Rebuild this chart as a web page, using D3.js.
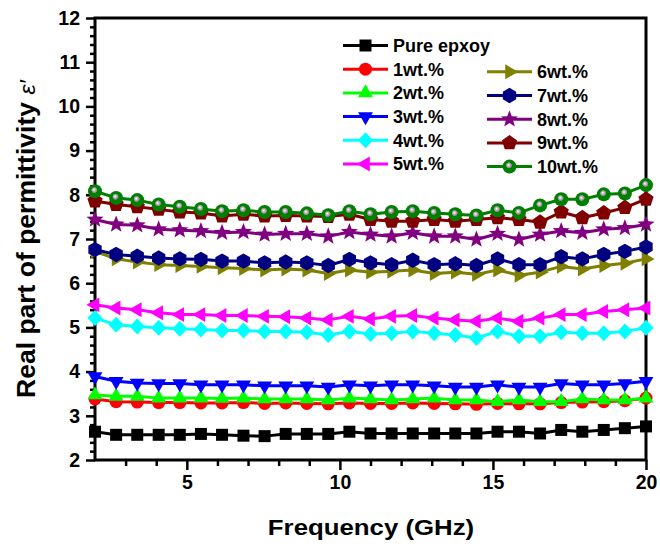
<!DOCTYPE html>
<html><head><meta charset="utf-8">
<script src="https://cdn.jsdelivr.net/npm/d3@7"></script>
<style>
html,body{margin:0;padding:0;background:#fff;}
svg{display:block;font-family:"Liberation Sans",Arial,sans-serif;}
</style></head>
<body>
<svg id="chart" width="660" height="544"></svg>
<script>
const freq = [2.00,2.69,3.38,4.08,4.77,5.46,6.15,6.85,7.54,8.23,8.92,9.62,10.31,11.00,11.69,12.38,13.08,13.77,14.46,15.15,15.85,16.54,17.23,17.92,18.62,19.31,20.00];
const seriesNames = ["Pure epxoy","1wt.%","2wt.%","3wt.%","4wt.%","5wt.%","6wt.%","7wt.%","8wt.%","9wt.%","10wt.%"];
const pure = [2.64,2.57,2.57,2.57,2.57,2.59,2.57,2.55,2.54,2.59,2.59,2.59,2.64,2.60,2.60,2.60,2.60,2.60,2.60,2.64,2.64,2.60,2.68,2.64,2.68,2.72,2.76];
const wt1 = [3.38,3.32,3.31,3.30,3.30,3.29,3.29,3.30,3.28,3.29,3.28,3.27,3.29,3.28,3.28,3.29,3.28,3.27,3.26,3.28,3.27,3.27,3.30,3.31,3.32,3.34,3.40];
const wt2 = [3.47,3.44,3.44,3.40,3.40,3.40,3.39,3.40,3.38,3.38,3.38,3.36,3.40,3.38,3.36,3.38,3.40,3.36,3.36,3.32,3.36,3.32,3.32,3.38,3.36,3.36,3.40];
const wt3 = [3.89,3.78,3.74,3.73,3.73,3.70,3.70,3.70,3.68,3.68,3.68,3.65,3.70,3.68,3.70,3.70,3.68,3.65,3.65,3.70,3.65,3.65,3.73,3.70,3.70,3.73,3.78];
const wt4 = [5.21,5.06,5.02,4.99,4.97,4.95,4.93,4.93,4.91,4.91,4.89,4.83,4.91,4.85,4.87,4.91,4.87,4.83,4.76,4.91,4.80,4.80,4.89,4.87,4.87,4.91,4.99];
const wt5 = [5.51,5.44,5.40,5.33,5.29,5.29,5.27,5.27,5.25,5.24,5.21,5.17,5.25,5.19,5.25,5.27,5.21,5.17,5.14,5.21,5.14,5.21,5.29,5.29,5.36,5.40,5.44];
const wt6 = [6.72,6.55,6.48,6.42,6.40,6.38,6.35,6.33,6.30,6.32,6.30,6.22,6.30,6.25,6.27,6.30,6.22,6.25,6.20,6.30,6.18,6.25,6.38,6.32,6.40,6.45,6.55];
const wt7 = [6.76,6.65,6.61,6.57,6.55,6.54,6.50,6.50,6.46,6.48,6.46,6.40,6.54,6.46,6.42,6.52,6.42,6.44,6.40,6.55,6.42,6.42,6.60,6.55,6.65,6.72,6.82];
const wt8 = [7.44,7.33,7.31,7.22,7.20,7.18,7.14,7.16,7.10,7.12,7.12,7.06,7.16,7.10,7.06,7.14,7.06,7.06,6.99,7.12,6.99,7.10,7.18,7.14,7.22,7.25,7.33];
const wt9 = [7.86,7.78,7.73,7.67,7.61,7.59,7.52,7.56,7.52,7.53,7.52,7.51,7.56,7.44,7.40,7.40,7.44,7.40,7.44,7.48,7.44,7.38,7.61,7.48,7.59,7.71,7.90];
const wt10 = [8.08,7.93,7.88,7.78,7.73,7.68,7.63,7.65,7.61,7.61,7.58,7.54,7.63,7.56,7.61,7.63,7.59,7.56,7.53,7.65,7.59,7.76,7.90,7.90,8.01,8.03,8.22];
const colors = ["#000000","#ff0000","#00ff00","#0000ff","#00ffff","#ff00ff","#808000","#000080","#800080","#800000","#008000"];
const shapes = ["square","circle","up","down","diamond","left","right","hexagon","star","pentagon","ball"];
const xMajor = [5,10,15,20];
const xMinor = [3,4,6,7,8,9,11,12,13,14,16,17,18,19];
const yMajor = [2,3,4,5,6,7,8,9,10,11,12];

const values = [pure,wt1,wt2,wt3,wt4,wt5,wt6,wt7,wt8,wt9,wt10];
const svg = d3.select("#chart");
const L=95, R=646, T=18, B=460;
const x = d3.scaleLinear().domain([2,20]).range([L,R]);
const y = d3.scaleLinear().domain([2,12]).range([B,T]);

const defs = svg.append("defs");
const g = defs.append("radialGradient").attr("id","ball").attr("cx","50%").attr("cy","46%").attr("r","50%").attr("fx","42%").attr("fy","38%");
g.append("stop").attr("offset","0%").attr("stop-color","#ffffff");
g.append("stop").attr("offset","20%").attr("stop-color","#c0c0c0");
g.append("stop").attr("offset","42%").attr("stop-color","#7a7a7a");
g.append("stop").attr("offset","45%").attr("stop-color","#008000");
g.append("stop").attr("offset","100%").attr("stop-color","#008000");

function poly(n, r, rot){ const p=[]; for(let i=0;i<n;i++){const a=rot+i*2*Math.PI/n; p.push([r*Math.cos(a), r*Math.sin(a)]);} return "M"+p.map(d=>d[0].toFixed(2)+","+d[1].toFixed(2)).join("L")+"Z"; }
function starPath(ro, ri){ const p=[]; for(let i=0;i<10;i++){const a=-Math.PI/2+i*Math.PI/5; const r=i%2?ri:ro; p.push([r*Math.cos(a), r*Math.sin(a)]);} return "M"+p.map(d=>d[0].toFixed(2)+","+d[1].toFixed(2)).join("L")+"Z"; }
function markerPath(s){
  switch(s){
    case "square": return "M-6,-6H6V6H-6Z";
    case "circle": return "M6.5,0A6.5,6.5 0 1,1 -6.5,0A6.5,6.5 0 1,1 6.5,0Z";
    case "ball": return "M7,0A7,7 0 1,1 -7,0A7,7 0 1,1 7,0Z";
    case "up": return poly(3,8.6,-Math.PI/2);
    case "down": return poly(3,8.6,Math.PI/2);
    case "left": return poly(3,8.6,Math.PI);
    case "right": return poly(3,8.6,0);
    case "diamond": return "M0,-8L7.6,0L0,8L-7.6,0Z";
    case "hexagon": return poly(6,7.7,-Math.PI/2);
    case "pentagon": return poly(5,8,-Math.PI/2);
    case "star": return starPath(9,3.8);
  }
}

svg.append("rect").attr("x",L).attr("y",T).attr("width",R-L).attr("height",B-T)
  .attr("fill","none").attr("stroke","#000").attr("stroke-width",3);

function styleAxis(sel){
  sel.select(".domain").remove();
  sel.selectAll(".tick line").attr("stroke","#000").attr("stroke-width",2.5);
  sel.selectAll(".tick text").attr("fill","#000").style("font-size","19.5px").style("font-weight","bold").style("font-family","'Liberation Sans',Arial,sans-serif");
}
const xa = svg.append("g").attr("transform",`translate(0,${B})`)
  .call(d3.axisBottom(x).tickValues(xMajor).tickSize(10).tickPadding(5).tickFormat(d3.format("d")));
styleAxis(xa);
const xm = svg.append("g").attr("transform",`translate(0,${B})`)
  .call(d3.axisBottom(x).tickValues(xMinor).tickSize(6).tickFormat(""));
styleAxis(xm);
const ya = svg.append("g").attr("transform",`translate(${L},0)`)
  .call(d3.axisLeft(y).tickValues(yMajor).tickSize(9).tickPadding(6).tickFormat(d3.format("d")));
styleAxis(ya);
const yMinor = [];
yMajor.slice(0,-1).forEach(v=>{for(let k=1;k<5;k++) yMinor.push(+(v+k*0.2).toFixed(1));});
const ym = svg.append("g").attr("transform",`translate(${L},0)`)
  .call(d3.axisLeft(y).tickValues(yMinor).tickSize(5).tickFormat(""));
styleAxis(ym);

const line = d3.line().x((d,i)=>x(freq[i])).y(d=>y(d));
values.forEach((vals,si)=>{
  const gs = svg.append("g");
  gs.append("path").attr("d",line(vals)).attr("fill","none").attr("stroke",colors[si]).attr("stroke-width",3).attr("stroke-linejoin","round");
  gs.selectAll("path.m").data(vals).enter().append("path").attr("class","m")
    .attr("d",markerPath(shapes[si]))
    .attr("transform",(d,i)=>`translate(${x(freq[i])},${y(d)})`)
    .attr("fill", shapes[si]==="ball" ? "url(#ball)" : colors[si]);
});

const leg = svg.append("g");
seriesNames.forEach((name,si)=>{
  let lx, ly;
  if(si<=5){ lx=343; ly=45.5+si*23.7; } else { lx=487; ly=71.8+(si-6)*23.7; }
  const gl = leg.append("g");
  gl.append("line").attr("x1",lx).attr("x2",lx+45).attr("y1",ly).attr("y2",ly).attr("stroke",colors[si]).attr("stroke-width",3);
  gl.append("path").attr("d",markerPath(shapes[si])).attr("transform",`translate(${lx+22.5},${ly})`)
    .attr("fill", shapes[si]==="ball" ? "url(#ball)" : colors[si]);
  gl.append("text").attr("x",lx+50).attr("y",ly+6.3).text(name)
    .style("font-size","18px").style("font-weight","bold").attr("fill","#000");
});

svg.append("text").attr("transform","translate(371,535) scale(1.2,1)").attr("text-anchor","middle")
  .style("font-size","21.5px").style("font-weight","bold").text("Frequency (GHz)");
const yt = svg.append("text").attr("transform","translate(35,239) rotate(-90) scale(1.06,1)").attr("text-anchor","middle")
  .style("font-size","25px").style("font-weight","bold");
yt.append("tspan").text("Real part of permittivity ");
yt.append("tspan").style("font-weight","normal").style("font-style","italic").style("font-size","22px").text("ε′");
</script>
</body></html>
